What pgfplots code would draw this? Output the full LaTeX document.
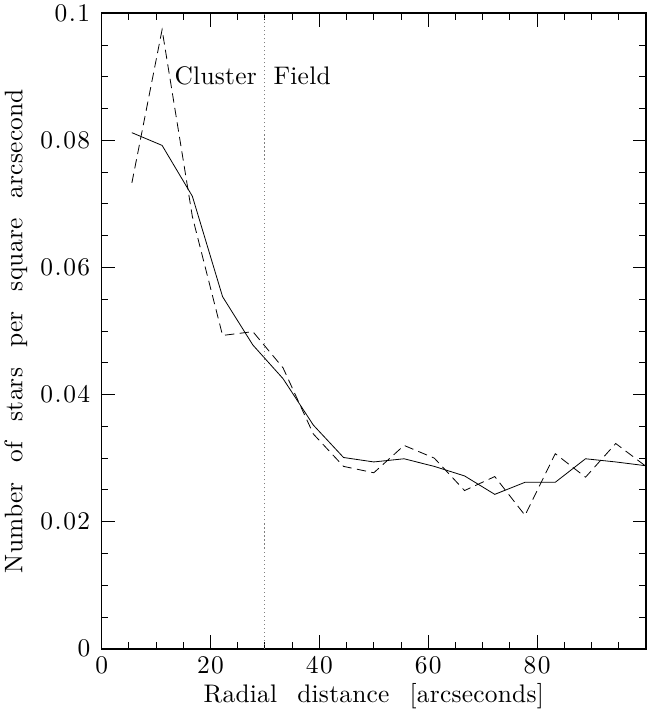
\documentclass[border=0pt]{standalone}
\usepackage{fontspec}
\usepackage{pgfplots}
\pgfplotsset{compat=1.18}
\newfontfamily\widefont{lmroman10-regular.otf}[LetterSpace=1.0,WordSpace=2.3]
\newfontfamily\tickwide{lmroman10-regular.otf}[LetterSpace=6.0]
\newcommand{\reffont}{\widefont\fontsize{19}{22}\selectfont}
\newcommand{\tickfont}{\tickwide\fontsize{19}{22}\selectfont}
\begin{document}
\begin{tikzpicture}
\begin{axis}[
  scale only axis,
  width=407.25pt, height=475.5pt,
  xmin=0, xmax=100, ymin=0, ymax=0.1,
  xtick={0,20,40,60,80},
  minor xtick={5,10,15,25,30,35,45,50,55,65,70,75,85,90,95},
  ytick={0,0.02,0.04,0.06,0.08,0.1},
  yticklabels={0,0.02,0.04,0.06,0.08,0.1},
  xticklabels={0,20,40,60,80},
  minor ytick={0.005,0.01,0.015,0.025,0.03,0.035,0.045,0.05,0.055,0.065,0.07,0.075,0.085,0.09,0.095},
  scaled y ticks=false,
  /pgf/number format/assume math mode=true,
  tick align=inside,
  major tick length=10pt,
  minor tick length=5pt,
  every tick/.style={black, line width=0.7pt},
  axis line style={line width=1.1pt},
  tick label style={font=\tickfont},
  label style={font=\reffont},
  xlabel={Radial distance [arcseconds]},
  ylabel={Number of stars per square arcsecond},
  xticklabel style={yshift=-2pt},
  yticklabel style={xshift=-5pt},
  ylabel style={yshift=3pt},
  clip=false,
]
\addplot[gray, line width=0.8pt, dash pattern=on 0.8pt off 2.2pt] coordinates {(30,0) (30,0.1)};
% solid series
\addplot[black, line width=0.6pt] coordinates {
(5.56,0.0812) (11.11,0.0792) (16.67,0.0712) (22.22,0.0554) (27.78,0.0478)
(33.33,0.0425) (38.89,0.0352) (44.44,0.0301) (50.00,0.0294) (55.56,0.0299)
(61.11,0.0287) (66.67,0.0272) (72.22,0.0243) (77.78,0.0262) (83.33,0.0262)
(88.89,0.0299) (94.44,0.0294) (100,0.0288)
};
% dashed series
\addplot[black, line width=0.6pt, dash pattern=on 7pt off 4pt] coordinates {
(5.56,0.0733) (11.11,0.0974) (16.67,0.0680) (22.22,0.0493) (27.78,0.0499)
(33.33,0.0442) (38.89,0.0338) (44.44,0.0287) (50.00,0.0277) (55.56,0.0320)
(61.11,0.0300) (66.67,0.0249) (72.22,0.0271) (77.78,0.0210) (83.33,0.0307)
(88.89,0.0270) (94.44,0.0323) (100,0.0287)
};
\node[anchor=east, font=\reffont, inner sep=1pt] at (axis cs:28.8,0.0902) {Cluster};
\node[anchor=west, font=\reffont, inner sep=1pt] at (axis cs:31.3,0.0902) {Field};
\end{axis}
\end{tikzpicture}
\end{document}
